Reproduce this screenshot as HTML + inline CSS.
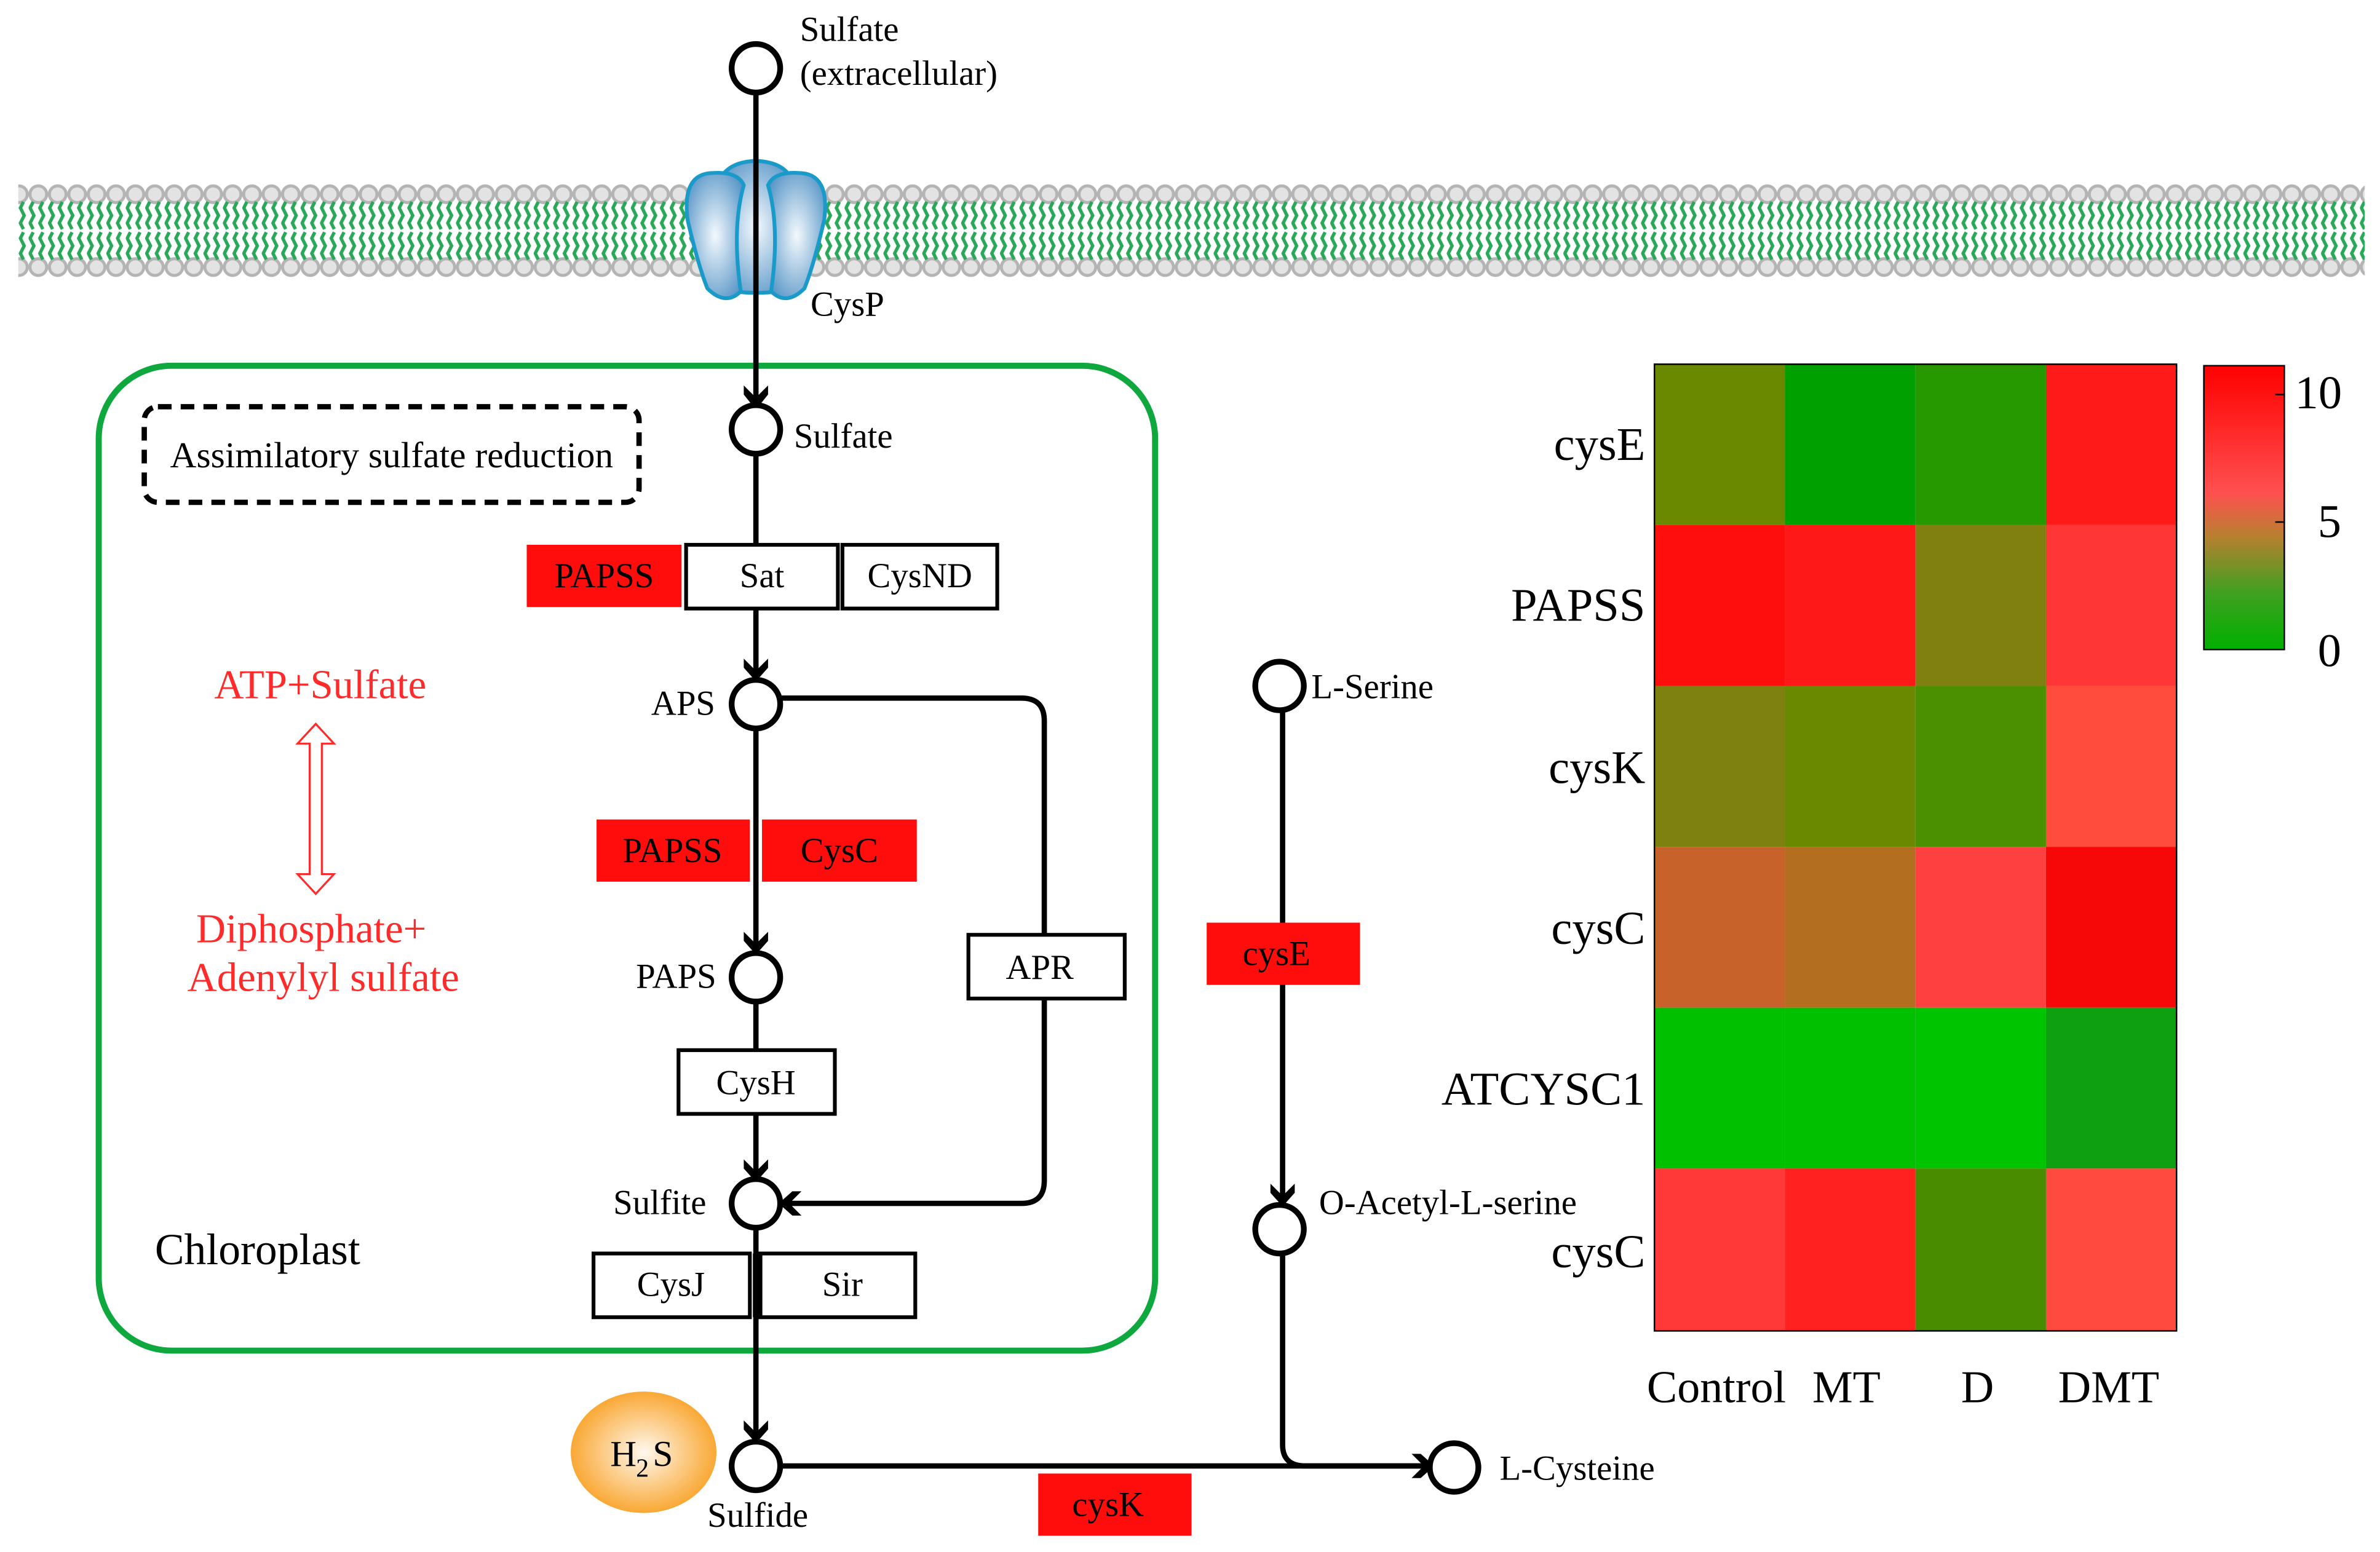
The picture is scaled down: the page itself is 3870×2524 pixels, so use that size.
<!DOCTYPE html>
<html><head><meta charset="utf-8"><style>
html,body{margin:0;padding:0;background:#fff;}
svg{display:block;}
text{font-family:"Liberation Serif",serif;}
</style></head><body>
<svg width="3870" height="2524" viewBox="0 0 1568 1022.7" xmlns="http://www.w3.org/2000/svg">
<defs>
<pattern id="heads" x="6" y="0" width="12.8" height="200" patternUnits="userSpaceOnUse">
<circle cx="6.4" cy="128" r="5.5" fill="#e3e3e3" stroke="#b4b4b4" stroke-width="2"/>
<circle cx="6.4" cy="176" r="5.5" fill="#e3e3e3" stroke="#b4b4b4" stroke-width="2"/>
</pattern>
<pattern id="tails" x="6" y="0" width="12.8" height="200" patternUnits="userSpaceOnUse">
<g fill="none" stroke="#2aa85a" stroke-width="2.2">
<path d="M3,133 L1,137 L3.5,142 L1,147 L3,151"/>
<path d="M9.4,133 L7.4,137 L9.9,142 L7.4,147 L9.4,151"/>
<path d="M3,153 L1,157 L3.5,162 L1,167 L3,171"/>
<path d="M9.4,153 L7.4,157 L9.9,162 L7.4,167 L9.4,171"/>
</g>
</pattern>
<radialGradient id="blue" cx="50%" cy="50%" r="60%"><stop offset="0" stop-color="#f4f9fd"/><stop offset="1" stop-color="#5a97c8"/></radialGradient>
<radialGradient id="orange" cx="50%" cy="50%" r="55%"><stop offset="0" stop-color="#fff8ee"/><stop offset="1" stop-color="#f9a022"/></radialGradient>
<linearGradient id="cbar" x1="0" y1="0" x2="0" y2="1"><stop offset="0" stop-color="#ff0000"/><stop offset="0.45" stop-color="#ff5050"/><stop offset="0.6" stop-color="#b88030"/><stop offset="0.8" stop-color="#40a020"/><stop offset="1" stop-color="#00b000"/></linearGradient>
</defs>

<rect x="12" y="120" width="1546" height="64" fill="url(#heads)"/>
<rect x="12" y="130" width="1546" height="44" fill="url(#tails)"/>

<g stroke="#1a9ac8" stroke-width="2.5" fill="url(#blue)">
<path d="M472,130 Q472,107 498,106 Q524,107 524,130 L524,190 Q498,196 472,190 Z"/>
<path d="M470,114 Q449,114 453,145 Q460,175 466,190 Q478,202 488,192 Q482,150 490,122 Q486,113 470,114 Z"/>
<path d="M526,114 Q547,114 543,145 Q536,175 530,190 Q518,202 508,192 Q514,150 506,122 Q510,113 526,114 Z"/>
</g>
<text x="534" y="208" font-size="23">CysP</text>

<rect x="65" y="241" width="696" height="649" rx="48" fill="none" stroke="#0fa83e" stroke-width="4"/>
<rect x="95" y="268" width="326" height="63" rx="9" fill="none" stroke="#000" stroke-width="3.5" stroke-dasharray="9,6"/>
<text x="112" y="308" font-size="24" textLength="292" lengthAdjust="spacingAndGlyphs">Assimilatory sulfate reduction</text>
<text x="102" y="833" font-size="29">Chloroplast</text>

<g stroke="#000" stroke-width="3.5" fill="none">
<line x1="498" y1="61" x2="498" y2="267"/>
<line x1="498" y1="299" x2="498" y2="446"/>
<line x1="498" y1="480" x2="498" y2="626"/>
<line x1="498" y1="660" x2="498" y2="775"/>
<line x1="498" y1="809" x2="498" y2="948"/>
<path d="M514,460 L673,460 Q688,460 688,475 L688,778 Q688,793 673,793 L518,793"/>
<line x1="845" y1="468" x2="845" y2="792"/>
<path d="M845,826 L845,952 Q845,966 860,966 L940,966"/>
<line x1="514" y1="966" x2="940" y2="966"/>
</g>

<g fill="#000">
<path d="M490,254 L498,262 L506,254 L506,260 L498,270 L490,260 Z"/>
<path d="M490,434 L498,442 L506,434 L506,440 L498,449 L490,440 Z"/>
<path d="M490,614 L498,622 L506,614 L506,620 L498,629 L490,620 Z"/>
<path d="M490,764 L498,772 L506,764 L506,770 L498,779 L490,770 Z"/>
<path d="M490,936 L498,944 L506,936 L506,942 L498,951 L490,942 Z"/>
<path d="M837,780 L845,788 L853,780 L853,786 L845,795 L837,786 Z"/>
<path d="M528,785 L520,793 L528,801 L522,801 L513,793 L522,785 Z"/>
<path d="M930,958 L938,966 L930,974 L936,974 L945,966 L936,958 Z"/>
</g>

<g fill="#fff" stroke="#000" stroke-width="3.8">
<circle cx="498" cy="45" r="16"/>
<circle cx="498" cy="283" r="16"/>
<circle cx="498" cy="464" r="16"/>
<circle cx="498" cy="644" r="16"/>
<circle cx="498" cy="793" r="16"/>
<circle cx="498" cy="966" r="16"/>
<circle cx="843" cy="452" r="16"/>
<circle cx="843" cy="810" r="16"/>
<circle cx="958" cy="967" r="16"/>
</g>

<g font-size="23">
<text x="527" y="27">Sulfate</text>
<text x="527" y="56">(extracellular)</text>
<text x="523" y="295">Sulfate</text>
<text x="429" y="471">APS</text>
<text x="419" y="651">PAPS</text>
<text x="404" y="800">Sulfite</text>
<text x="466" y="1006">Sulfide</text>
<text x="864" y="460">L-Serine</text>
<text x="869" y="800">O-Acetyl-L-serine</text>
<text x="988" y="975">L-Cysteine</text>
</g>

<g font-size="23" text-anchor="middle">
<rect x="347" y="359" width="102" height="41" fill="#ff0d0d"/><text x="398" y="387">PAPSS</text>
<rect x="452" y="359" width="100" height="42" fill="#fff" stroke="#000" stroke-width="2.5"/><text x="502" y="387">Sat</text>
<rect x="555" y="359" width="102" height="42" fill="#fff" stroke="#000" stroke-width="2.5"/><text x="606" y="387">CysND</text>
<rect x="393" y="540" width="101" height="41" fill="#ff0d0d"/><text x="443" y="568">PAPSS</text>
<rect x="502" y="540" width="102" height="41" fill="#ff0d0d"/><text x="553" y="568">CysC</text>
<rect x="638" y="616" width="103" height="42" fill="#fff" stroke="#000" stroke-width="2.5"/><text x="685" y="645">APR</text>
<rect x="447" y="692" width="103" height="42" fill="#fff" stroke="#000" stroke-width="2.5"/><text x="498" y="721">CysH</text>
<rect x="391" y="826" width="103" height="42" fill="#fff" stroke="#000" stroke-width="2.5"/><text x="442" y="854">CysJ</text>
<rect x="501" y="826" width="102" height="42" fill="#fff" stroke="#000" stroke-width="2.5"/><text x="555" y="854">Sir</text>
<rect x="795" y="608" width="101" height="41" fill="#ff0d0d"/><text x="841" y="636">cysE</text>
<rect x="684" y="971" width="101" height="41" fill="#ff0d0d"/><text x="730" y="999">cysK</text>
</g>
<line x1="498" y1="826" x2="498" y2="868" stroke="#000" stroke-width="4"/>

<g fill="#ff2a2a" font-size="27" text-anchor="middle">
<text x="211" y="460">ATP+Sulfate</text>
<text x="205" y="621">Diphosphate+</text>
<text x="213" y="653">Adenylyl sulfate</text>
</g>
<path d="M208,477 L220,490 L212,490 L212,576 L220,576 L208,589 L196,576 L204,576 L204,490 L196,490 Z" fill="none" stroke="#ff2a2a" stroke-width="1.3"/>

<ellipse cx="424" cy="957" rx="48" ry="40" fill="url(#orange)"/>
<text x="402" y="966" font-size="24">H</text><text x="419" y="973" font-size="17">2</text><text x="430" y="966" font-size="24">S</text>

<g>
<rect x="1090" y="240" width="86" height="106" fill="#6a8800"/>
<rect x="1176" y="240" width="86" height="106" fill="#00a000"/>
<rect x="1262" y="240" width="86" height="106" fill="#269800"/>
<rect x="1348" y="240" width="86" height="106" fill="#ff1a1a"/>
<rect x="1090" y="346" width="86" height="106" fill="#ff0e0e"/>
<rect x="1176" y="346" width="86" height="106" fill="#ff1818"/>
<rect x="1262" y="346" width="86" height="106" fill="#808010"/>
<rect x="1348" y="346" width="86" height="106" fill="#ff3636"/>
<rect x="1090" y="452" width="86" height="106" fill="#7e8010"/>
<rect x="1176" y="452" width="86" height="106" fill="#6a8800"/>
<rect x="1262" y="452" width="86" height="106" fill="#4a9000"/>
<rect x="1348" y="452" width="86" height="106" fill="#ff4c3c"/>
<rect x="1090" y="558" width="86" height="106" fill="#c6622a"/>
<rect x="1176" y="558" width="86" height="106" fill="#b46e20"/>
<rect x="1262" y="558" width="86" height="106" fill="#ff4040"/>
<rect x="1348" y="558" width="86" height="106" fill="#f60808"/>
<rect x="1090" y="664" width="86" height="106" fill="#00c000"/>
<rect x="1176" y="664" width="86" height="106" fill="#00c000"/>
<rect x="1262" y="664" width="86" height="106" fill="#00c400"/>
<rect x="1348" y="664" width="86" height="106" fill="#0ea010"/>
<rect x="1090" y="770" width="86" height="107" fill="#ff3838"/>
<rect x="1176" y="770" width="86" height="107" fill="#ff2020"/>
<rect x="1262" y="770" width="86" height="107" fill="#4a8c00"/>
<rect x="1348" y="770" width="86" height="107" fill="#ff4a40"/>
<rect x="1090" y="240" width="344" height="637" fill="none" stroke="#000" stroke-width="1"/>
</g>
<g font-size="31" text-anchor="end">
<text x="1084" y="303">cysE</text>
<text x="1084" y="409">PAPSS</text>
<text x="1084" y="516">cysK</text>
<text x="1084" y="622">cysC</text>
<text x="1084" y="728">ATCYSC1</text>
<text x="1084" y="835">cysC</text>
</g>
<g font-size="30">
<text x="1085" y="924">Control</text>
<text x="1194" y="924">MT</text>
<text x="1292" y="924">D</text>
<text x="1356" y="924">DMT</text>
</g>
<rect x="1452" y="241" width="53" height="187" fill="url(#cbar)" stroke="#000" stroke-width="1"/>
<g stroke="#000" stroke-width="1"><line x1="1499" y1="260" x2="1505" y2="260"/><line x1="1499" y1="344" x2="1505" y2="344"/></g>
<g font-size="31"><text x="1512" y="269">10</text><text x="1527" y="354">5</text><text x="1527" y="439">0</text></g>
</svg>
</body></html>
